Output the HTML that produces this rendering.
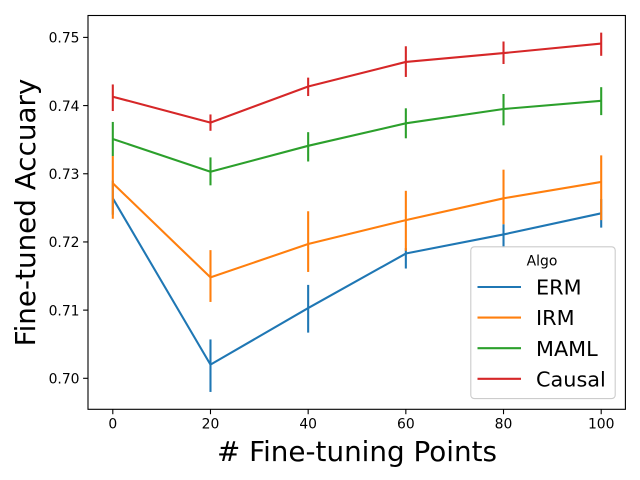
<!DOCTYPE html>
<html>
<head>
<meta charset="utf-8">
<title>Fine-tuned Accuracy</title>
<style>
html,body{margin:0;padding:0;background:#fff;}
svg{display:block;font-family:"DejaVu Sans","Liberation Sans",sans-serif;}
</style>
</head>
<body>
<svg id="chart" xmlns="http://www.w3.org/2000/svg" width="640" height="480" viewBox="0 0 640 480"></svg>
<script>
const xValues = [0, 20, 40, 60, 80, 100];
const xTickLabels = ["0", "20", "40", "60", "80", "100"];
const yTickValues = [0.70, 0.71, 0.72, 0.73, 0.74, 0.75];
const yTickLabels = ["0.70", "0.71", "0.72", "0.73", "0.74", "0.75"];
const seriesNames = ["ERM", "IRM", "MAML", "Causal"];
const seriesColors = ["#1f77b4", "#ff7f0e", "#2ca02c", "#d62728"];

const ermMean = [0.7264, 0.7020, 0.7103, 0.7183, 0.7211, 0.7242];
const ermLow = [0.7240, 0.6980, 0.7067, 0.7161, 0.7192, 0.7221];
const ermHigh = [0.7290, 0.7057, 0.7137, 0.7191, 0.7226, 0.7263];

const irmMean = [0.7286, 0.7148, 0.7197, 0.7232, 0.7264, 0.7288];
const irmLow = [0.7234, 0.7112, 0.7156, 0.7187, 0.7226, 0.7232];
const irmHigh = [0.7326, 0.7188, 0.7245, 0.7275, 0.7306, 0.7327];

const mamlMean = [0.7351, 0.7303, 0.7341, 0.7374, 0.7395, 0.7407];
const mamlLow = [0.7326, 0.7283, 0.7318, 0.7352, 0.7371, 0.7386];
const mamlHigh = [0.7376, 0.7324, 0.7361, 0.7396, 0.7417, 0.7427];

const causalMean = [0.7413, 0.7375, 0.7428, 0.7464, 0.7477, 0.7491];
const causalLow = [0.7392, 0.7363, 0.7414, 0.7442, 0.7461, 0.7473];
const causalHigh = [0.7431, 0.7387, 0.7441, 0.7487, 0.7494, 0.7507];

const seriesMeans = [ermMean, irmMean, mamlMean, causalMean];
const seriesLows = [ermLow, irmLow, mamlLow, causalLow];
const seriesHighs = [ermHigh, irmHigh, mamlHigh, causalHigh];

const NS = "http://www.w3.org/2000/svg";
const svg = document.getElementById("chart");

const plotLeft = 88, plotRight = 625.4, plotTop = 15.5, plotBottom = 409.3;
function xScale(v) { return 112.8 + v * 4.884; }
function yScale(v) { return 378.3 - (v - 0.70) * 6818; }

function make(tag, attrs, parent) {
  const el = document.createElementNS(NS, tag);
  for (const k in attrs) el.setAttribute(k, attrs[k]);
  (parent || svg).appendChild(el);
  return el;
}

const bg = make("rect", {x: plotLeft, y: plotTop, width: plotRight - plotLeft, height: plotBottom - plotTop, fill: "#fff"});



/* series */
seriesNames.forEach(function (name, s) {
  const g = make("g", {fill: "none", stroke: seriesColors[s], "stroke-width": 2.08});
  
  
  const pts = xValues.map(function (x, i) { return xScale(x).toFixed(2) + "," + yScale(seriesMeans[s][i]).toFixed(2); }).join(" ");
  const line = make("polyline", {points: pts, "stroke-linejoin": "round"}, g);
  
  
  xValues.forEach(function (x, i) {
    const bar = make("line", {x1: xScale(x), x2: xScale(x), y1: yScale(seriesLows[s][i]), y2: yScale(seriesHighs[s][i])}, g);
    
    
  });
});

/* ticks */
const xAxis = make("g", {});


xValues.forEach(function (x, i) {
  const px = xScale(x);
  const tick = make("line", {x1: px, x2: px, y1: plotBottom, y2: plotBottom + 4.9, stroke: "#000", "stroke-width": 1.1}, xAxis);
  
  
  const label = make("text", {x: px, y: 428.5, "text-anchor": "middle", "font-size": 13.9, fill: "#000"}, xAxis);
  label.textContent = xTickLabels[i];
  
  
});

const yAxis = make("g", {});


yTickValues.forEach(function (v, i) {
  const py = yScale(v);
  const tick = make("line", {x1: plotLeft - 4.9, x2: plotLeft, y1: py, y2: py, stroke: "#000", "stroke-width": 1.1}, yAxis);
  
  
  const label = make("text", {x: 79.5, y: py + 5.2, "text-anchor": "end", "font-size": 13.9, fill: "#000"}, yAxis);
  label.textContent = yTickLabels[i];
  
  
});

/* frame */
const frame = make("rect", {x: plotLeft, y: plotTop, width: plotRight - plotLeft, height: plotBottom - plotTop, fill: "none", stroke: "#000", "stroke-width": 1.1});



/* axis titles */
const xTitle = make("text", {x: 357, y: 461, "text-anchor": "middle", "font-size": 27.8, fill: "#000"});
xTitle.textContent = "# Fine-tuning Points";



const yTitle = make("text", {x: 0, y: 0, transform: "translate(35,212.5) rotate(-90)", "text-anchor": "middle", "font-size": 27.8, fill: "#000"});
yTitle.textContent = "Fine-tuned Accuary";



/* legend */
const legend = make("g", {});


const legendBox = make("rect", {x: 470.8, y: 246.8, width: 144.4, height: 151.8, rx: 3.5, fill: "#fff", "fill-opacity": 0.8, stroke: "#ccc", "stroke-width": 1.1}, legend);


const legendTitle = make("text", {x: 542, y: 265.5, "text-anchor": "middle", "font-size": 13.9, fill: "#000"}, legend);
legendTitle.textContent = "Algo";


seriesNames.forEach(function (name, s) {
  const rowY = 287 + s * 30.6;
  const swatch = make("line", {x1: 477.5, x2: 521, y1: rowY, y2: rowY, stroke: seriesColors[s], "stroke-width": 2.08}, legend);
  
  
  const label = make("text", {x: 536, y: rowY + 7.6, "font-size": 20.8, fill: "#000"}, legend);
  label.textContent = name;
  
  
});
</script>
</body>
</html>
